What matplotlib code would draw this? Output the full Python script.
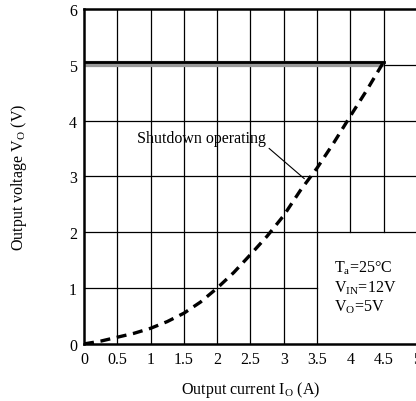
"""
Output voltage vs. output current, showing the over-current shutdown region.
"""

import matplotlib
matplotlib.use("Agg")
import matplotlib.pyplot as plt

plt.rcParams["font.family"] = ["Liberation Serif", "DejaVu Serif"]
plt.rcParams["mathtext.fontset"] = "custom"
plt.rcParams["mathtext.rm"] = "Liberation Serif"

# regulated output up to the shutdown point
flat_current = [0.0, 4.5]
flat_voltage = [5.05, 5.05]

# shutdown (fold-back) curve
shutdown_current = [0.0, 0.25, 0.5, 0.75, 1.0, 1.25, 1.5, 1.75, 2.0, 2.25, 2.5,
                    2.75, 3.0, 3.25, 3.5, 3.75, 4.0, 4.25, 4.5]
shutdown_voltage = [0.0, 0.05, 0.12, 0.19, 0.28, 0.4, 0.55, 0.75, 1.0, 1.28, 1.6,
                    1.93, 2.3, 2.75, 3.15, 3.6, 4.08, 4.55, 5.05]

x_ticks = [0, 0.5, 1, 1.5, 2, 2.5, 3, 3.5, 4, 4.5, 5]
x_tick_labels = ["0", "0.5", "1", "1.5", "2", "2.5", "3", "3.5", "4", "4.5", "5"]
y_ticks = [0, 1, 2, 3, 4, 5, 6]

FS = 11.5

fig = plt.figure(figsize=(4.16, 4.02), dpi=100)
ax = fig.add_axes([0.202, 0.142, 0.8, 0.833])
ax.set_xlim(0, 5)
ax.set_ylim(0, 6)

# grid drawn by hand so the condition box can blank out its corner
for x in x_ticks[1:-1]:
    ymin = 2 if x > 3.5 else 0
    ax.plot([x, x], [ymin, 6], color="black", lw=0.9, zorder=1)
for y in y_ticks[1:-1]:
    xmax = 3.5 if y < 2 else 5
    ax.plot([0, xmax], [y, y], color="black", lw=0.9, zorder=1)

ax.plot(flat_current, [v - 0.03 for v in flat_voltage], color="#999999", lw=4.5,
        solid_capstyle="butt", zorder=2)
ax.plot(flat_current, flat_voltage, color="black", lw=2.0, zorder=3)
ax.plot(shutdown_current, shutdown_voltage, color="black", lw=2.4,
        linestyle=(0, (3, 2)), zorder=3)

ax.annotate("Shutdown operating", xy=(3.31, 2.96), xytext=(1.77, 3.69),
            ha="center", va="center", fontsize=FS,
            arrowprops=dict(arrowstyle="-", color="black", lw=0.8,
                            shrinkA=0, shrinkB=0,
                            relpos=(1.0, 0.0)))

ax.text(3.76, 1.02, "T$_\\mathrm{a}$=25°C\nV$_\\mathrm{IN}$=12V\nV$_\\mathrm{O}$=5V",
        ha="left", va="center", fontsize=FS, linespacing=1.15)

ax.set_xticks(x_ticks)
ax.set_xticklabels(x_tick_labels)
ax.set_yticks(y_ticks)
ax.tick_params(length=0, labelsize=FS, pad=5)
for side in ["left", "bottom", "top"]:
    ax.spines[side].set_linewidth(1.8)
ax.spines["right"].set_visible(False)

ax.set_xlabel("Output current I$_\\mathrm{O}$ (A)", fontsize=FS, labelpad=9)
ax.set_ylabel("Output voltage V$_\\mathrm{O}$ (V)", fontsize=FS, labelpad=29)

fig.savefig("out.png", dpi=100)
